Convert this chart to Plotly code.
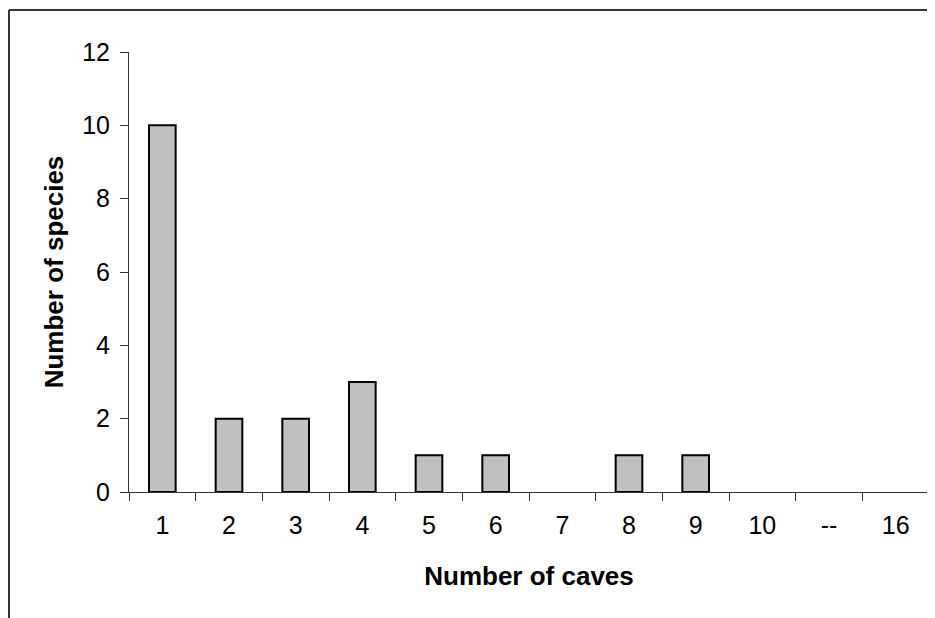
import plotly.graph_objects as go

categories = ["1", "2", "3", "4", "5", "6", "7", "8", "9", "10", "--", "16"]
species = [10, 2, 2, 3, 1, 1, 0, 1, 1, 0, 0, 0]
y_ticks = [0, 2, 4, 6, 8, 10, 12]

fig = go.Figure()
fig.add_trace(go.Bar(
    x=categories,
    y=[v if v else None for v in species],  # zero counts draw no bar outline
    marker=dict(color="#c0c0c0", line=dict(color="black", width=2)),
))

font = dict(family="Liberation Sans, Arial", size=25, color="black")

fig.update_layout(
    width=935, height=618,
    margin=dict(l=121, r=14, t=44, b=134),
    paper_bgcolor="white", plot_bgcolor="white",
    bargap=0.6,
    showlegend=False,
    font=font,
    xaxis=dict(
        type="category",
        showline=True, linecolor="#333", linewidth=1,
        ticks="outside", tickson="boundaries", ticklen=8, tickcolor="#333",
        showgrid=False, zeroline=False,
        tickfont=dict(size=25),
        ticklabelstandoff=11,
        title=dict(text="<b>Number of caves</b>", font=dict(size=26), standoff=28),
    ),
    yaxis=dict(
        range=[0, 12], tickvals=y_ticks,
        showline=True, linecolor="#333", linewidth=1,
        ticks="outside", ticklen=8, tickcolor="#333",
        showgrid=False, zeroline=False,
        tickfont=dict(size=25),
        ticklabelstandoff=5,
        title=dict(text="<b>Number of species</b>", font=dict(size=26), standoff=11),
    ),
    shapes=[
        dict(type="line", xref="paper", yref="paper", x0=-0.15, x1=1.02, y0=1.0955, y1=1.0955,
             line=dict(color="#333", width=2)),
        dict(type="line", xref="paper", yref="paper", x0=-0.15, x1=-0.15, y0=1.0955, y1=-0.31,
             line=dict(color="#333", width=2)),
    ],
)

fig.write_html("out.html")
